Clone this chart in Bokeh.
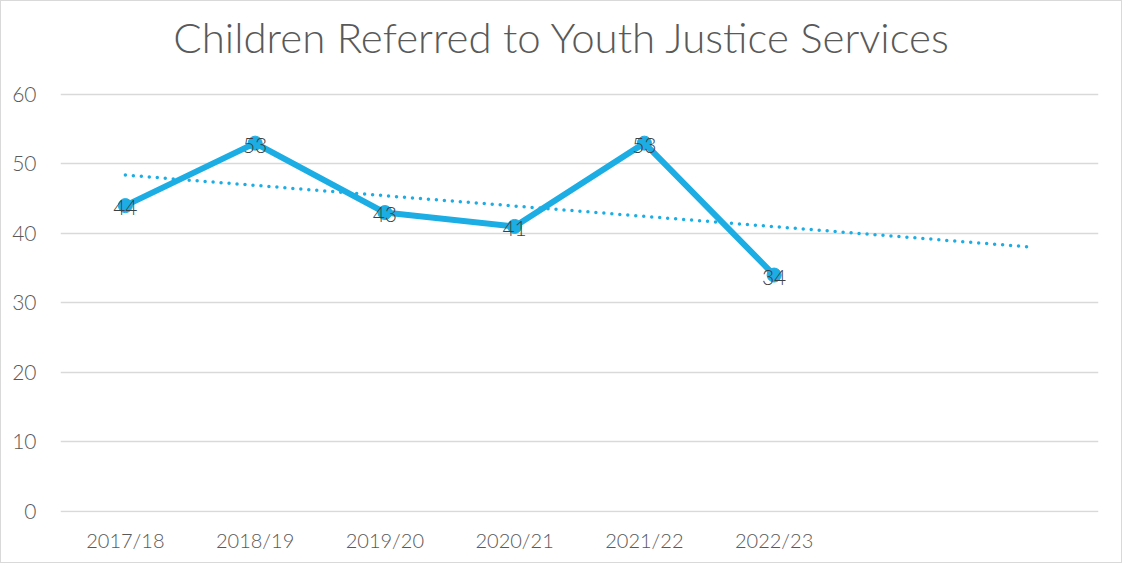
from bokeh.plotting import figure
from bokeh.models import ColumnDataSource, FixedTicker, Range1d, LabelSet, Label
from bokeh.core.properties import value
from bokeh.embed import file_html
from bokeh.resources import INLINE

# ---- data ----
title_text = "Children Referred to Youth Justice Services"
categories = ["2017/18", "2018/19", "2019/20", "2020/21", "2021/22", "2022/23"]
referrals = [44, 53, 43, 41, 53, 34]
# linear trendline (forecast 2 periods forward), endpoints
trend_pos = [1, 8]
trend_vals = [48.4, 38.0]
y_ticks = [0, 10, 20, 30, 40, 50, 60]

TFONT = "Lato Light"
BLUE = "#1CADE4"
GREY = "#595959"

xpos = list(range(1, len(categories) + 1))
src = ColumnDataSource(dict(x=xpos, y=referrals, lab=[str(v) for v in referrals]))

# the frame reaches the top of the chart so the title sits inside it;
# the value axis still stops at 60 (top gridline)
p = figure(width=1122, height=563, output_backend="svg", toolbar_location=None,
           x_range=Range1d(0.5, 8.5), y_range=Range1d(-0.2, 73.4),
           min_border_left=59, min_border_right=25, min_border_top=0, min_border_bottom=52)

p.outline_line_color = None
p.background_fill_color = "white"
p.border_fill_color = "white"
p.styles = {"border": "1px solid #d9d9d9"}

p.xgrid.grid_line_color = None
p.ygrid.grid_line_color = "#d9d9d9"
p.ygrid.grid_line_width = 1.5

p.yaxis.ticker = FixedTicker(ticks=y_ticks)
p.xaxis.ticker = FixedTicker(ticks=xpos)
p.xaxis.major_label_overrides = {i: c for i, c in zip(xpos, categories)}

for ax in (p.xaxis, p.yaxis):
    ax.axis_line_color = None
    ax.major_tick_line_color = None
    ax.minor_tick_line_color = None
    ax.major_label_text_font = TFONT
    ax.major_label_text_color = GREY
p.xaxis.major_label_text_font_size = "20px"
p.yaxis.major_label_text_font_size = "21px"
p.xaxis.major_label_standoff = 9
p.yaxis.major_label_standoff = 18

p.line(trend_pos, trend_vals, line_color=BLUE, line_width=3.5, line_dash="0 8", line_cap="round")
p.line("x", "y", source=src, line_color=BLUE, line_width=6, line_join="round")
p.scatter("x", "y", source=src, size=14, fill_color=BLUE, line_color=BLUE)

labels = LabelSet(x="x", y="y", text="lab", source=src, text_align="center",
                  text_baseline="middle", text_font=value(TFONT), text_font_size="21px",
                  text_color="#404040", y_offset=-2)
p.add_layout(labels)

# chart title, centred over the whole chart (screen units relative to the frame)
title = Label(x=502, y=476, x_units="screen", y_units="screen", text=title_text,
              text_align="center", text_baseline="middle", text_font=TFONT,
              text_font_size="42px", text_color=GREY)
p.add_layout(title)

open("out.html", "w").write(file_html(p, INLINE))
